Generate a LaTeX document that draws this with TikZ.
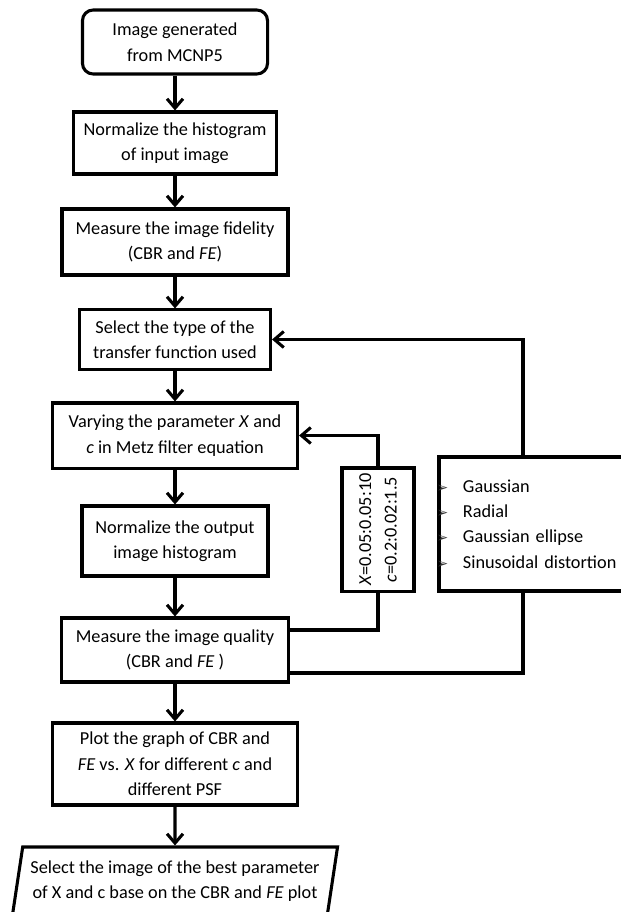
\documentclass[tikz,border=0pt]{standalone}
\usepackage{fontspec}
\setmainfont{Carlito}
\newfontfamily\symfont{DejaVu Sans}
\usetikzlibrary{arrows.meta,shapes.geometric}

\begin{document}
\begin{tikzpicture}[x=0.75pt, y=0.75pt, line width=2.3pt,
  font=\fontsize{13.7}{19.1}\selectfont,
  box/.style={draw, align=center, inner sep=0pt},
  flow/.style={-{Straight Barb[length=7pt,width=12pt]}}]
\useasboundingbox (0,0) rectangle (620,-912);
\node[box, rounded corners=8pt, minimum width=138.8pt, minimum height=48pt] (gen) at (175,-42) {Image generated\\from MCNP5};
\node[box, minimum width=152.3pt, minimum height=46.5pt] (normin) at (175,-143) {Normalize the histogram\\of input image};
\node[box, minimum width=169.5pt, minimum height=49.5pt] (fid) at (175,-242) {Measure the image fidelity\\(CBR and \textit{FE})};
\node[box, minimum width=143.3pt, minimum height=44.3pt] (type) at (175,-339.5) {Select the type of the\\transfer function used};
\node[box, minimum width=183.8pt, minimum height=48.8pt] (vary) at (175,-435.5) {Varying the parameter \textit{X} and\\\textit{c} in Metz filter equation};
\node[box, minimum width=139.5pt, minimum height=52.5pt] (normout) at (175,-541) {Normalize the output\\image histogram};
\node[box, minimum width=170.3pt, minimum height=48pt] (qual) at (175,-650) {Measure the image quality\\(CBR and \textit{FE} )};
\node[box, minimum width=183.8pt, minimum height=61.5pt] (plot) at (175,-764) {Plot the graph of CBR and\\\textit{FE} vs. \textit{X} for different \textit{c} and\\different PSF};
\node[box, trapezium, trapezium left angle=76, trapezium right angle=104, trapezium stretches body, minimum width=243.8pt, minimum height=51pt] (best) at (175,-881) {Select the image of the best parameter\\of X and c base on the CBR and \textit{FE} plot};

% parameter ranges and transfer functions
\node[box, rotate=90, minimum width=92.3pt, minimum height=54pt] (range) at (378,-529.5) {\textit{X}=0.05:0.05:10\\\textit{c}=0.2:0.02:1.5};
\node[draw, align=left, inner sep=0pt, text width=158.3pt, minimum height=100.5pt] (psf) at (544.5,-524) {%
\makebox[18pt][l]{\hspace*{-1.8pt}{\symfont\fontsize{10.5}{10.5}\selectfont\color{black!80}➢}}Gaussian\\
\makebox[18pt][l]{\hspace*{-1.8pt}{\symfont\fontsize{10.5}{10.5}\selectfont\color{black!80}➢}}Radial\\
\makebox[18pt][l]{\hspace*{-1.8pt}{\symfont\fontsize{10.5}{10.5}\selectfont\color{black!80}➢}}Gaussian ellipse\\
\makebox[18pt][l]{\hspace*{-1.8pt}{\symfont\fontsize{10.5}{10.5}\selectfont\color{black!80}➢}}Sinusoidal distortion};

\coordinate (loopX) at (378,-630);
\coordinate (loopT) at (523,-673);
\coordinate (rail) at (523,-340);

\draw [flow] (gen) -- (normin);
\draw [flow] (normin) -- (fid);
\draw [flow] (fid) -- (type);
\draw [flow] (type) -- (vary);
\draw [flow] (vary) -- (normout);
\draw [flow] (normout) -- (qual);
\draw [flow] (qual) -- (plot);
\draw [flow] (plot) -- (best);

\draw (qual.east |- loopX) -| (range.west);
\draw [flow] (range.east) |- (vary.east);
\draw (qual.east |- loopT) -| (rail |- psf.south);
\draw [flow] (rail |- psf.north) |- (type.east);
\end{tikzpicture}
\end{document}
